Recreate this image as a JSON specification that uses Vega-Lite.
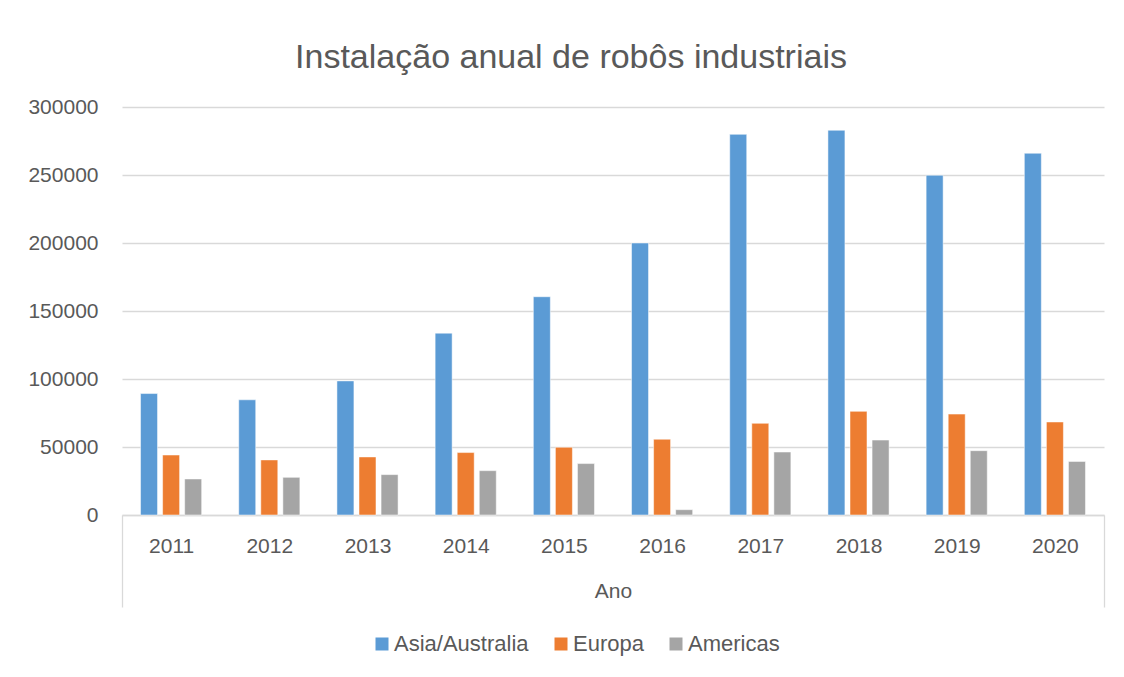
{
  "$schema": "https://vega.github.io/schema/vega-lite/v6.json",
  "width": 982,
  "height": 408,
  "autosize": {"type": "none"},
  "padding": {"left": 122, "top": 107, "right": 20, "bottom": 162},
  "background": "white",
  "title": {
    "text": "Instalação anual de robôs industriais",
    "font": "Liberation Sans",
    "fontSize": 34,
    "fontWeight": "normal",
    "color": "#595959",
    "anchor": "middle",
    "frame": "group",
    "dx": -42,
    "offset": 21
  },
  "data": {
    "values": [
      {"ano": "2011", "regiao": "Asia/Australia", "valor": 89300},
      {"ano": "2011", "regiao": "Europa", "valor": 44100},
      {"ano": "2011", "regiao": "Americas", "valor": 26500},
      {"ano": "2012", "regiao": "Asia/Australia", "valor": 84700},
      {"ano": "2012", "regiao": "Europa", "valor": 40500},
      {"ano": "2012", "regiao": "Americas", "valor": 27700},
      {"ano": "2013", "regiao": "Asia/Australia", "valor": 98600},
      {"ano": "2013", "regiao": "Europa", "valor": 42700},
      {"ano": "2013", "regiao": "Americas", "valor": 29700},
      {"ano": "2014", "regiao": "Asia/Australia", "valor": 133700},
      {"ano": "2014", "regiao": "Europa", "valor": 45900},
      {"ano": "2014", "regiao": "Americas", "valor": 32600},
      {"ano": "2015", "regiao": "Asia/Australia", "valor": 160500},
      {"ano": "2015", "regiao": "Europa", "valor": 49800},
      {"ano": "2015", "regiao": "Americas", "valor": 37800},
      {"ano": "2016", "regiao": "Asia/Australia", "valor": 200000},
      {"ano": "2016", "regiao": "Europa", "valor": 55700},
      {"ano": "2016", "regiao": "Americas", "valor": 3900},
      {"ano": "2017", "regiao": "Asia/Australia", "valor": 279900},
      {"ano": "2017", "regiao": "Europa", "valor": 67400},
      {"ano": "2017", "regiao": "Americas", "valor": 46300},
      {"ano": "2018", "regiao": "Asia/Australia", "valor": 282900},
      {"ano": "2018", "regiao": "Europa", "valor": 76200},
      {"ano": "2018", "regiao": "Americas", "valor": 55100},
      {"ano": "2019", "regiao": "Asia/Australia", "valor": 249800},
      {"ano": "2019", "regiao": "Europa", "valor": 74200},
      {"ano": "2019", "regiao": "Americas", "valor": 47300},
      {"ano": "2020", "regiao": "Asia/Australia", "valor": 266000},
      {"ano": "2020", "regiao": "Europa", "valor": 68400},
      {"ano": "2020", "regiao": "Americas", "valor": 39400}
    ]
  },
  "mark": {"type": "bar", "stroke": "white", "strokeWidth": 0.5},
  "encoding": {
    "x": {
      "field": "ano",
      "type": "nominal",
      "scale": {"paddingInner": 0, "paddingOuter": 0},
      "axis": {
        "title": "Ano",
        "titleFont": "Liberation Sans",
        "titleFontSize": 21,
        "titleFontWeight": "normal",
        "titleColor": "#595959",
        "titleY": 65,
        "titleBaseline": "top",
        "labelAngle": 0,
        "labelFont": "Liberation Sans",
        "labelFontSize": 21,
        "labelColor": "#595959",
        "domainColor": "#D9D9D9",
        "domainWidth": 1.3,
        "tickBand": "extent",
        "tickSize": 92,
        "tickColor": "#D9D9D9",
        "tickWidth": 1.3,
        "tickOpacity": {"condition": {"test": "datum.index === 1 || datum.index === -1", "value": 1}, "value": 0},
        "labelPadding": -72,
        "grid": false
      }
    },
    "xOffset": {
      "field": "regiao",
      "type": "nominal",
      "sort": ["Asia/Australia", "Europa", "Americas"],
      "scale": {"paddingInner": 0.23, "paddingOuter": 0.84}
    },
    "y": {
      "field": "valor",
      "type": "quantitative",
      "scale": {"domain": [0, 300000], "nice": false},
      "axis": {
        "title": null,
        "values": [0, 50000, 100000, 150000, 200000, 250000, 300000],
        "format": "d",
        "labelFont": "Liberation Sans",
        "labelFontSize": 21,
        "labelColor": "#595959",
        "labelPadding": 24,
        "ticks": false,
        "domain": false,
        "grid": true,
        "gridColor": "#D9D9D9",
        "gridWidth": 1.3
      }
    },
    "color": {
      "field": "regiao",
      "type": "nominal",
      "sort": ["Asia/Australia", "Europa", "Americas"],
      "scale": {
        "domain": ["Asia/Australia", "Europa", "Americas"],
        "range": ["#5B9BD5", "#ED7D31", "#A5A5A5"]
      },
      "legend": {
        "title": null,
        "orient": "none",
        "direction": "horizontal",
        "legendX": 249,
        "legendY": 526,
        "symbolType": "square",
        "symbolSize": 169,
        "symbolStrokeWidth": 0,
        "symbolOpacity": 1,
        "labelFont": "Liberation Sans",
        "labelFontSize": 22,
        "labelColor": "#595959",
        "labelOffset": 1,
        "labelLimit": 300,
        "columnPadding": 21
      }
    }
  },
  "config": {
    "view": {"stroke": null},
    "axis": {"labelFlush": false}
  }
}
